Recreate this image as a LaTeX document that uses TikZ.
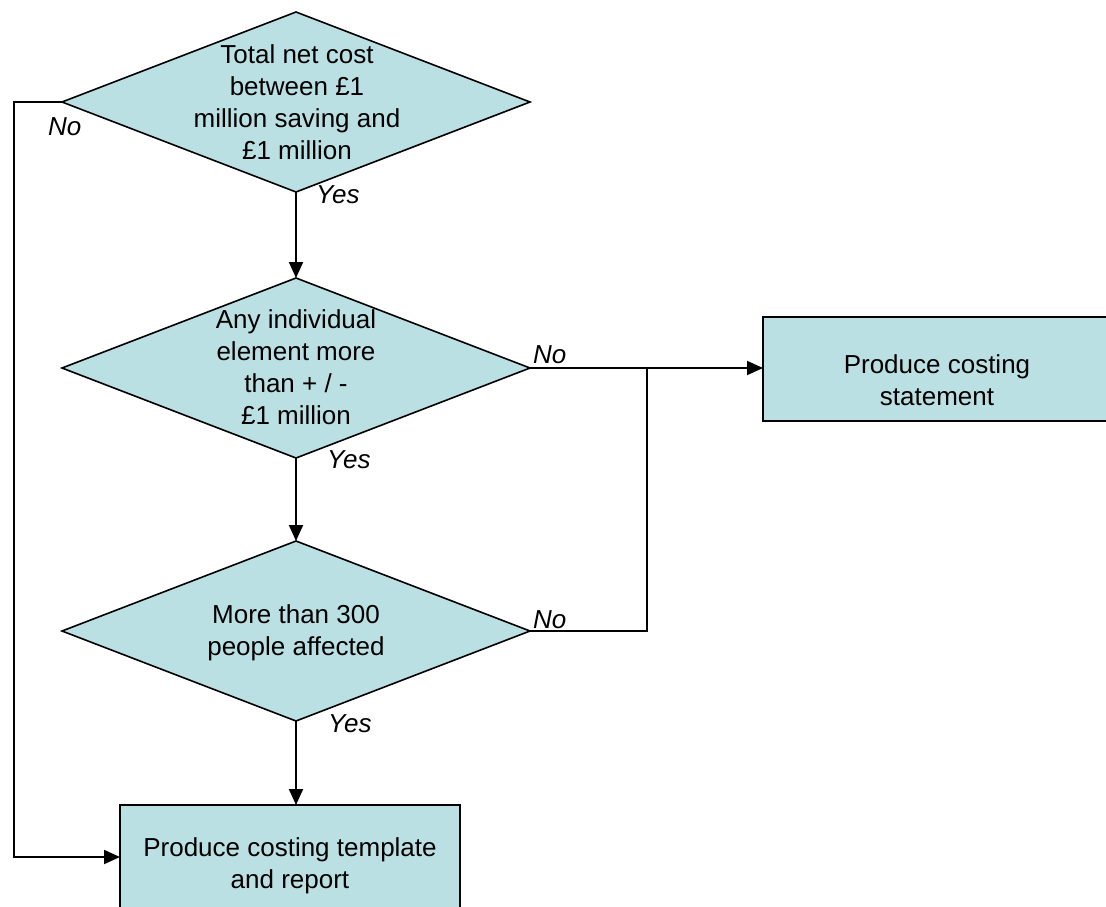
\documentclass[tikz,border=0pt]{standalone}
\usepackage{fontspec}
\setmainfont{Liberation Sans}
\usetikzlibrary{shapes.geometric,arrows.meta}
\definecolor{boxfill}{RGB}{187,224,227}
\begin{document}
\begin{tikzpicture}[x=1pt,y=-1pt,
  dec/.style={diamond,draw=black,fill=boxfill,line width=1.6pt,inner sep=0pt,outer sep=0pt,minimum width=468pt,minimum height=180pt},
  proc/.style={rectangle,draw=black,fill=boxfill,line width=1.6pt,inner sep=0pt,outer sep=0pt},
  txt/.style={align=center,font=\fontsize{26}{32}\selectfont,inner sep=0pt},
  lab/.style={font=\fontsize{26}{32}\selectfont\itshape,inner sep=0pt,anchor=base west},
  conn/.style={line width=2pt},
  arr/.style={conn,-{Triangle[length=16pt,width=14pt]}}]
\useasboundingbox (0,0) rectangle (1106,906);

\node[dec] (d1) at (296,102) {};
\node[txt] (d1t) at (297,102) {Total net cost\\between £1\\million saving and\\£1 million};

\node[dec] (d2) at (296,368) {};
\node[txt] (d2t) at (296,367) {Any individual\\element more\\than + / -\\£1 million};

\node[dec] (d3) at (296,631) {};
\node[txt] (d3t) at (296,633) {More than 300\\people affected};

\node[proc,minimum width=347pt,minimum height=104pt] (b1) at (936.5,369) {};
\node[txt] (b1t) at (937,380) {Produce costing\\statement};

\node[proc,minimum width=340pt,minimum height=120pt] (b2) at (290,865) {};
\node[txt] (b2t) at (290,866) {Produce costing template\\and report};

\coordinate (cL) at (14,857);
\coordinate (j) at (647,368);

\draw[arr] (d1.west) -| (cL) -- (b2.west |- cL);
\draw[arr] (d1.south) -- (d2.north);
\draw[arr] (d2.south) -- (d3.north);
\draw[arr] (d3.south) -- (d3.south |- b2.north);
\draw[arr] (d2.east) -- (d2.east -| b1.west);
\draw[conn] (d3.east) -| (j);

\node[lab] (n1) at (48,135) {No};
\node[lab] (y1) at (316,203) {Yes};
\node[lab] (n2) at (533,363) {No};
\node[lab] (y2) at (327,468) {Yes};
\node[lab] (n3) at (533,628) {No};
\node[lab] (y3) at (328,732) {Yes};
\end{tikzpicture}
\end{document}
